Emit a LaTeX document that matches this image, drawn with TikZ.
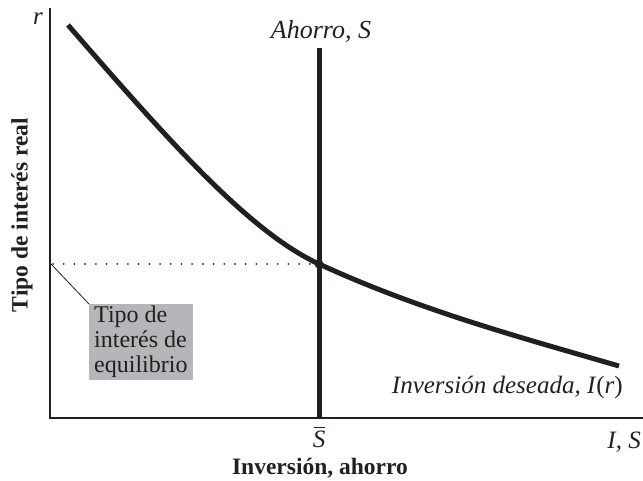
\documentclass[tikz,border=0pt]{standalone}
\usepackage{fontspec}
\setmainfont{Liberation Serif}
\definecolor{ink}{HTML}{231F20}
\definecolor{boxgray}{HTML}{B5B6B9}
\begin{document}
\begin{tikzpicture}[x=1pt,y=-1pt,
  axis/.style={draw=ink,line width=1.3pt},
  thick curve/.style={draw=ink,line width=5pt},
  lbl/.style={text=ink,inner sep=0pt,font=\fontsize{25}{28}\selectfont\itshape},
  blbl/.style={text=ink,inner sep=0pt,font=\fontsize{23.5}{27}\selectfont\bfseries},
  callout/.style={fill=boxgray,text=ink,align=left,inner xsep=5pt,inner ysep=2pt,anchor=north west,font=\fontsize{24}{25}\selectfont}]
\useasboundingbox (0,0) rectangle (643,481);
% axes
\coordinate (ytop) at (50,8);
\coordinate (orig) at (50,418);
\coordinate (xend) at (643,418);
\draw[axis] (ytop) -- (orig) -- (xend);
% equilibrium
\coordinate (eq) at (319,264);
\coordinate (eqy) at (51,264);
\draw[ink,line width=1.8pt,dash pattern=on 0.1pt off 10.6pt,line cap=round] (53,264) -- (eq);
% saving line
\coordinate (stop) at (319,48);
\coordinate (sbot) at (319,418);
\draw[thick curve] (stop) -- (sbot);
% investment curve
\coordinate (ist) at (68,25);
\coordinate (iend) at (619,366);
\draw[thick curve] (ist) .. controls (168,140) and (249,231.8) .. (eq)
  .. controls (419,310) and (519,337) .. (iend);
\fill[ink] (eq) circle (4.5);
% callout
\node[callout] (box) at (89,304) {Tipo de\\interés de\\equilibrio};
\draw[ink,line width=0.8pt] (eqy) -- (box.north west);
% labels
\node[lbl] (r) at (38,19) {r};
\node[lbl,font=\fontsize{26}{28}\selectfont\itshape] (ahorro) at (321,31) {Ahorro, S};
\node[lbl,anchor=base east] (inv) at (623,393) {Inversión deseada, I\textup{(}r\textup{)}};
\node[lbl,anchor=base east] (is) at (641,448) {I, S};
\node[lbl,anchor=base] (sbar) at (319,447) {S};
\draw[ink,line width=1pt] ([xshift=-5pt,yshift=3pt]sbar.north) -- ([xshift=6pt,yshift=3pt]sbar.north);
\node[blbl] (xlab) at (320,468) {Inversión, ahorro};
\node[blbl,rotate=90] (ylab) at (22,215) {Tipo de interés real};
\end{tikzpicture}
\end{document}
